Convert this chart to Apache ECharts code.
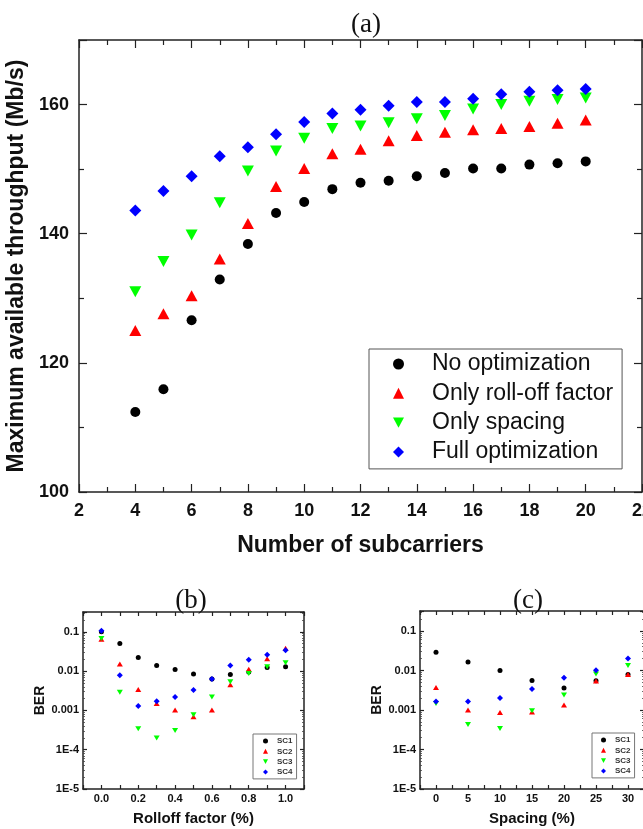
<!DOCTYPE html>
<html>
<head>
<meta charset="utf-8">
<script src="https://cdn.jsdelivr.net/npm/echarts@6/dist/echarts.min.js"></script>
<style>
  html, body { margin: 0; padding: 0; background: #fff; overflow: hidden; }
  #ChartDIV { width: 643px; height: 829px; }
</style>
</head>
<body>
<div id="ChartDIV"></div>
<script>
// (a) throughput vs number of subcarriers
var subcarriers = [4, 5, 6, 7, 8, 9, 10, 11, 12, 13, 14, 15, 16, 17, 18, 19, 20];
var noOpt =       [112.4, 115.9, 126.6, 132.9, 138.4, 143.2, 144.9, 146.9, 147.9, 148.2, 148.9, 149.4, 150.1, 150.1, 150.7, 150.9, 151.2];
var rolloffOnly = [125.0, 127.6, 130.4, 136.1, 141.6, 147.3, 150.1, 152.4, 153.1, 154.4, 155.2, 155.7, 156.1, 156.3, 156.6, 157.1, 157.6];
var spacingOnly = [131.0, 135.7, 139.8, 144.8, 149.7, 152.8, 154.8, 156.3, 156.7, 157.2, 157.8, 158.3, 159.3, 160.0, 160.5, 160.8, 161.0];
var fullOpt =     [143.6, 146.6, 148.9, 152.0, 153.4, 155.4, 157.3, 158.6, 159.2, 159.8, 160.4, 160.4, 160.9, 161.6, 162.0, 162.2, 162.4];
var namesA = ['No optimization', 'Only roll-off factor', 'Only spacing', 'Full optimization'];

// (b) BER vs rolloff factor
var rolloff = [0.0, 0.1, 0.2, 0.3, 0.4, 0.5, 0.6, 0.7, 0.8, 0.9, 1.0];
var bSC1 = [0.1, 0.0505, 0.0222, 0.0139, 0.011, 0.0084, 0.0063, 0.0082, 0.0095, 0.0124, 0.0129];
var bSC2 = [0.065, 0.0153, 0.0034, 0.0015, 0.00102, 0.00069, 0.00102, 0.0045, 0.0112, 0.0206, 0.0385];
var bSC3 = [0.068, 0.0029, 0.00034, 0.0002, 0.00031, 0.00078, 0.0022, 0.0054, 0.0087, 0.0129, 0.0163];
var bSC4 = [0.106, 0.0079, 0.0013, 0.0017, 0.0022, 0.0033, 0.0063, 0.0139, 0.0195, 0.026, 0.0342];

// (c) BER vs spacing
var spacing = [0, 5, 10, 15, 20, 25, 30];
var cSC1 = [0.029, 0.0163, 0.01, 0.0056, 0.0036, 0.0055, 0.0079];
var cSC2 = [0.0037, 0.001, 0.00086, 0.00089, 0.00134, 0.0054, 0.0079];
var cSC3 = [0.00145, 0.00043, 0.00034, 0.00096, 0.0024, 0.0081, 0.0134];
var cSC4 = [0.00163, 0.00163, 0.002, 0.0034, 0.0065, 0.0102, 0.0202];
var namesSC = ['SC1', 'SC2', 'SC3', 'SC4'];

var colors = ['#000000', '#ff0000', '#00ff00', '#0000ff'];
var FONT = 'Liberation Sans';
var downTri = 'path://M0,0L12,0L6,11Z';

function pairs(xs, ys) {
    var res = [];
    for (var i = 0; i < xs.length; i++) {
        res.push([xs[i], ys[i]]);
    }
    return res;
}

function frameAxis(extra) {
    var ax = {
        type: 'value',
        splitLine: { show: false },
        axisLine: { show: true, onZero: false, lineStyle: { color: '#222', width: 1.5 } },
        axisTick: { inside: true, length: 5, lineStyle: { color: '#222', width: 1.2 } },
        minorTick: { show: false },
        axisLabel: { fontFamily: FONT, fontWeight: 'bold', color: '#111' }
    };
    for (var k in extra) {
        if (typeof extra[k] === 'object' && !Array.isArray(extra[k]) && ax[k]) {
            ax[k] = Object.assign({}, ax[k], extra[k]);
        } else {
            ax[k] = extra[k];
        }
    }
    return ax;
}

// legend entries, the down triangle needs its own icon
function legendData(names) {
    return names.map(function (n, i) {
        return i === 2 ? { name: n, icon: downTri } : { name: n };
    });
}

var myChart = echarts.init(document.getElementById('ChartDIV'));

var symA = [
    { symbol: 'circle', size: 10, rotate: 0 },
    { symbol: 'triangle', size: [12, 11], rotate: 0 },
    { symbol: 'triangle', size: [12, 11], rotate: 180 },
    { symbol: 'diamond', size: [12, 12], rotate: 0 }
];
var symS = [
    { symbol: 'circle', size: 5, rotate: 0 },
    { symbol: 'triangle', size: [6, 5], rotate: 0 },
    { symbol: 'triangle', size: [6, 5], rotate: 180 },
    { symbol: 'diamond', size: [6, 6], rotate: 0 }
];

var seriesA = [noOpt, rolloffOnly, spacingOnly, fullOpt];
var seriesB = [bSC1, bSC2, bSC3, bSC4];
var seriesC = [cSC1, cSC2, cSC3, cSC4];
var series = [];
for (var i = 0; i < 4; i++) {
    series.push({
        name: namesA[i], type: 'scatter', xAxisIndex: 0, yAxisIndex: 0,
        symbol: symA[i].symbol, symbolSize: symA[i].size, symbolRotate: symA[i].rotate,
        itemStyle: { color: colors[i], opacity: 1 },
        data: pairs(subcarriers, seriesA[i])
    });
}
for (var i = 0; i < 4; i++) {
    series.push({
        name: namesSC[i], type: 'scatter', xAxisIndex: 2, yAxisIndex: 2,
        symbol: symS[i].symbol, symbolSize: symS[i].size, symbolRotate: symS[i].rotate,
        itemStyle: { color: colors[i], opacity: 1 },
        data: pairs(rolloff, seriesB[i])
    });
}
for (var i = 0; i < 4; i++) {
    series.push({
        name: namesSC[i], type: 'scatter', xAxisIndex: 4, yAxisIndex: 4,
        symbol: symS[i].symbol, symbolSize: symS[i].size, symbolRotate: symS[i].rotate,
        itemStyle: { color: colors[i], opacity: 1 },
        data: pairs(spacing, seriesC[i])
    });
}

function berLabel(v) {
    var e = Math.round(Math.log(v) / Math.LN10);
    if (Math.abs(Math.log(v) / Math.LN10 - e) > 0.01) return '';
    if (e === -1) return '0.1';
    if (e === -2) return '0.01';
    if (e === -3) return '0.001';
    return '1E' + e;
}

var logMin = 1e-5, logMax = 0.32;

var option = {
    animation: false,
    title: [
        { text: '(a)', left: 361, top: 20, textAlign: 'center', textVerticalAlign: 'middle',
          textStyle: { fontFamily: 'Liberation Serif', fontWeight: 'normal', fontSize: 27, color: '#111' } },
        { text: '(b)', left: 186, top: 596, textAlign: 'center', textVerticalAlign: 'middle',
          textStyle: { fontFamily: 'Liberation Serif', fontWeight: 'normal', fontSize: 27, color: '#111' } },
        { text: '(c)', left: 523, top: 596, textAlign: 'center', textVerticalAlign: 'middle',
          textStyle: { fontFamily: 'Liberation Serif', fontWeight: 'normal', fontSize: 27, color: '#111' } }
    ],
    legend: [
        {
            data: legendData(namesA), orient: 'vertical', left: 369, top: 349,
            itemWidth: 11, itemHeight: 11, itemGap: 6.3,
            padding: [3.5, 9, 5.5, 24],
            borderColor: '#555', borderWidth: 1, selectedMode: false,
            textStyle: { fontFamily: FONT, fontSize: 23, color: '#111', lineHeight: 23, padding: [0, 0, 0, 23] }
        },
        {
            data: legendData(namesSC), orient: 'vertical', left: 253, top: 734,
            itemWidth: 5, itemHeight: 5, itemGap: 0.3,
            padding: [2, 4, 2, 10],
            borderColor: '#777', borderWidth: 1, selectedMode: false,
            textStyle: { fontFamily: FONT, fontWeight: 'bold', fontSize: 8, color: '#333', lineHeight: 10, padding: [0, 0, 0, 4] }
        },
        {
            data: legendData(namesSC), orient: 'vertical', left: 592, top: 733,
            itemWidth: 5, itemHeight: 5, itemGap: 0.3,
            padding: [2, 4, 2, 9],
            borderColor: '#777', borderWidth: 1, selectedMode: false,
            textStyle: { fontFamily: FONT, fontWeight: 'bold', fontSize: 8, color: '#333', lineHeight: 10, padding: [0, 0, 0, 4] }
        }
    ],
    grid: [
        { left: 79, top: 40, width: 563, height: 452, outerBoundsMode: 'none' },
        { left: 83, top: 612, width: 221, height: 177, outerBoundsMode: 'none' },
        { left: 420, top: 611, width: 224, height: 178, outerBoundsMode: 'none' }
    ],
    xAxis: [
        frameAxis({
            gridIndex: 0, position: 'bottom', min: 2, max: 22, interval: 2,
            axisTick: { length: 8 },
            minorTick: { show: true, splitNumber: 2, length: 5, lineStyle: { color: '#222', width: 1.2 } },
            axisLabel: { fontSize: 18, margin: 10, hideOverlap: false },
            name: 'Number of subcarriers', nameLocation: 'middle', nameGap: 42,
            nameTextStyle: { fontFamily: FONT, fontWeight: 'bold', fontSize: 23, color: '#111' }
        }),
        frameAxis({
            gridIndex: 0, position: 'top', min: 2, max: 22, interval: 2,
            axisTick: { length: 8 },
            minorTick: { show: true, splitNumber: 2, length: 5, lineStyle: { color: '#222', width: 1.2 } },
            axisLabel: { show: false }
        }),
        frameAxis({
            gridIndex: 1, position: 'bottom', min: -0.1, max: 1.1, interval: 0.1,
            axisTick: { length: 4 },
            axisLabel: {
                fontSize: 11, margin: 4,
                formatter: function (v) {
                    var k = Math.round(v * 10);
                    if (k < 0 || k > 10 || k % 2 !== 0) return '';
                    return (k / 10).toFixed(1);
                }
            },
            name: 'Rolloff factor (%)', nameLocation: 'middle', nameGap: 22,
            nameTextStyle: { fontFamily: FONT, fontWeight: 'bold', fontSize: 15, color: '#111' }
        }),
        frameAxis({
            gridIndex: 1, position: 'top', min: -0.1, max: 1.1, interval: 0.1,
            axisTick: { length: 4 }, axisLabel: { show: false }
        }),
        frameAxis({
            gridIndex: 2, position: 'bottom', min: -2.5, max: 32.5, interval: 2.5,
            axisTick: { length: 4 },
            axisLabel: {
                fontSize: 11, margin: 4,
                formatter: function (v) {
                    if (v < 0 || v > 30 || Math.abs(v % 5) > 0.01) return '';
                    return String(v);
                }
            },
            name: 'Spacing (%)', nameLocation: 'middle', nameGap: 22,
            nameTextStyle: { fontFamily: FONT, fontWeight: 'bold', fontSize: 15, color: '#111' }
        }),
        frameAxis({
            gridIndex: 2, position: 'top', min: -2.5, max: 32.5, interval: 2.5,
            axisTick: { length: 4 }, axisLabel: { show: false }
        })
    ],
    yAxis: [
        frameAxis({
            gridIndex: 0, position: 'left', min: 100, max: 170, interval: 20,
            axisTick: { length: 8 },
            minorTick: { show: true, splitNumber: 2, length: 5, lineStyle: { color: '#222', width: 1.2 } },
            axisLabel: {
                fontSize: 18, margin: 10,
                formatter: function (v) { return v % 20 === 0 ? String(v) : ''; }
            },
            name: 'Maximum available throughput (Mb/s)', nameLocation: 'middle', nameGap: 37,
            nameTextStyle: { fontFamily: FONT, fontWeight: 'bold', fontSize: 23, color: '#111' }
        }),
        frameAxis({
            gridIndex: 0, position: 'right', min: 100, max: 170, interval: 20,
            axisTick: { length: 8 },
            minorTick: { show: true, splitNumber: 2, length: 5, lineStyle: { color: '#222', width: 1.2 } },
            axisLabel: { show: false }
        }),
        frameAxis({
            gridIndex: 1, type: 'log', logBase: 10, position: 'left', min: logMin, max: logMax,
            axisTick: { length: 4 },
            minorTick: { show: true, splitNumber: 9, length: 2, lineStyle: { color: '#444', width: 0.8 } },
            axisLabel: { fontSize: 11, margin: 4, formatter: berLabel },
            name: 'BER', nameLocation: 'middle', nameGap: 28,
            nameTextStyle: { fontFamily: FONT, fontWeight: 'bold', fontSize: 14, color: '#111' }
        }),
        frameAxis({
            gridIndex: 1, type: 'log', logBase: 10, position: 'right', min: logMin, max: logMax,
            axisTick: { length: 4 },
            minorTick: { show: true, splitNumber: 9, length: 2, lineStyle: { color: '#444', width: 0.8 } },
            axisLabel: { show: false }
        }),
        frameAxis({
            gridIndex: 2, type: 'log', logBase: 10, position: 'left', min: logMin, max: logMax,
            axisTick: { length: 4 },
            minorTick: { show: true, splitNumber: 9, length: 2, lineStyle: { color: '#444', width: 0.8 } },
            axisLabel: { fontSize: 11, margin: 4, formatter: berLabel },
            name: 'BER', nameLocation: 'middle', nameGap: 28,
            nameTextStyle: { fontFamily: FONT, fontWeight: 'bold', fontSize: 14, color: '#111' }
        }),
        frameAxis({
            gridIndex: 2, type: 'log', logBase: 10, position: 'right', min: logMin, max: logMax,
            axisTick: { length: 4 },
            minorTick: { show: true, splitNumber: 9, length: 2, lineStyle: { color: '#444', width: 0.8 } },
            axisLabel: { show: false }
        })
    ],
    series: series
};

myChart.setOption(option);
</script>
</body>
</html>
